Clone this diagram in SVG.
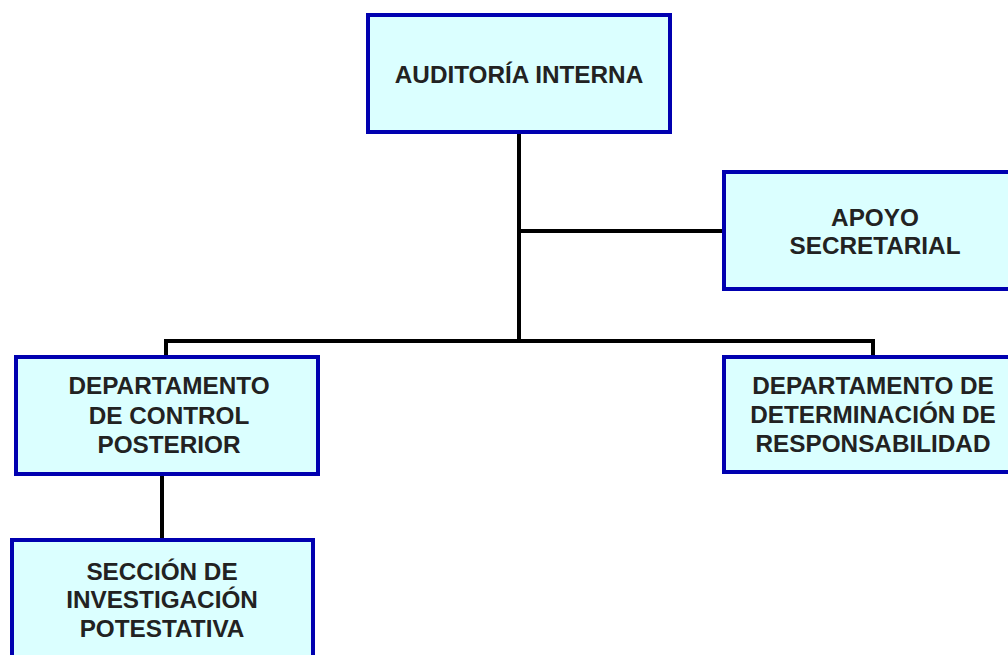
<svg xmlns="http://www.w3.org/2000/svg" width="1008" height="655" viewBox="0 0 1008 655">
  <style>
    .box { fill: #dbffff; stroke: #0000b0; stroke-width: 4; }
    .lbl { font-family: "Liberation Sans", Arial, sans-serif; font-weight: bold; font-size: 24.3px; fill: #222; text-anchor: middle; }
    .wire { stroke: #000; stroke-width: 4; fill: none; }
  </style>
  <rect width="1008" height="655" fill="#fff"/>
  <g id="connectors">
    <line class="wire" x1="519" y1="132" x2="519" y2="341"/>
    <line class="wire" x1="519" y1="231" x2="724" y2="231"/>
    <polyline class="wire" points="166,357 166,341 873,341 873,357"/>
    <line class="wire" x1="162" y1="474" x2="162" y2="540"/>
  </g>
  <g id="auditoria">
    <rect class="box" x="368" y="15" width="302" height="117"/>
    <text class="lbl" x="519" y="83">AUDITORÍA INTERNA</text>
  </g>
  <g id="apoyo">
    <rect class="box" x="724" y="172" width="304" height="117"/>
    <text class="lbl" x="875" y="226">APOYO</text>
    <text class="lbl" x="875" y="254">SECRETARIAL</text>
  </g>
  <g id="control">
    <rect class="box" x="16" y="357" width="302" height="117"/>
    <text class="lbl" x="169" y="394">DEPARTAMENTO</text>
    <text class="lbl" x="169" y="424">DE CONTROL</text>
    <text class="lbl" x="169" y="453">POSTERIOR</text>
  </g>
  <g id="responsabilidad">
    <rect class="box" x="724" y="357" width="304" height="115"/>
    <text class="lbl" x="873" y="394">DEPARTAMENTO DE</text>
    <text class="lbl" x="873" y="423">DETERMINACIÓN DE</text>
    <text class="lbl" x="873" y="452">RESPONSABILIDAD</text>
  </g>
  <g id="investigacion">
    <rect class="box" x="12" y="540" width="301" height="130"/>
    <text class="lbl" x="162" y="580">SECCIÓN DE</text>
    <text class="lbl" x="162" y="608">INVESTIGACIÓN</text>
    <text class="lbl" x="162" y="637">POTESTATIVA</text>
  </g>
</svg>
